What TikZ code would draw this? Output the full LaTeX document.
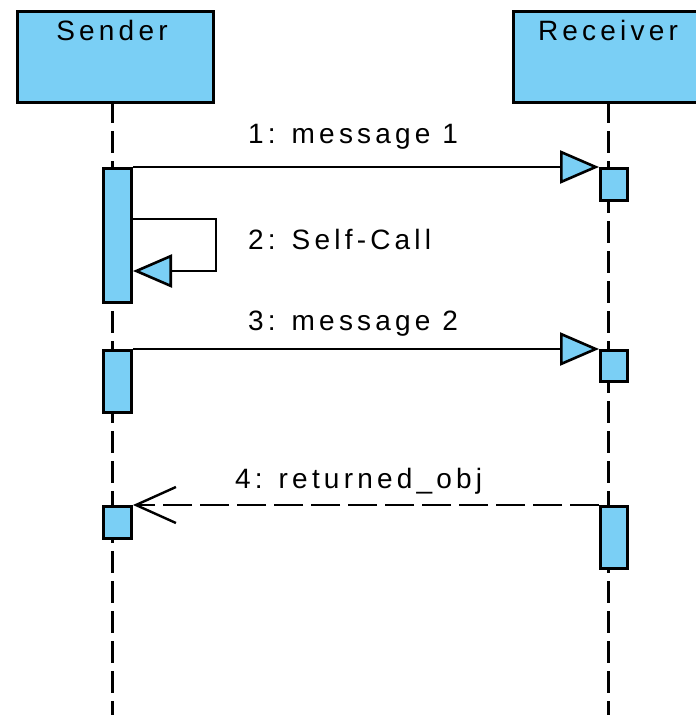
\documentclass[tikz,border=0pt]{standalone}
\usepackage{fontspec}
\setmainfont{Liberation Sans}
\newfontfamily\lblfont[LetterSpace=15]{Liberation Sans}
\usetikzlibrary{arrows.meta}
\definecolor{actblue}{RGB}{122,207,245}
\begin{document}
\begin{tikzpicture}[x=1pt,y=-1pt,
  lifebox/.style={draw,line width=3pt,fill=actblue,minimum width=196pt,minimum height=91pt,inner sep=0pt,anchor=north west},
  actbox/.style={draw,line width=3pt,fill=actblue,inner sep=0pt,anchor=north west,minimum width=27pt},
  lifeline/.style={line width=3pt,dash pattern=on 22pt off 8pt},
  msg/.style={line width=2.2pt,-{Triangle[length=39pt,width=33pt,fill=actblue,line width=2.6pt]}},
  ret/.style={line width=2.2pt,dash pattern=on 29pt off 8pt,-{Straight Barb[length=40pt,width=36pt,line width=2.4pt]}},
  txt/.style={font=\lblfont\fontsize{28}{31}\selectfont,inner sep=0pt}]
\useasboundingbox (0,0) rectangle (696,715);
\clip (0,0) rectangle (696,715);
% lifeline heads
\node[lifebox] (sender) at (16,10) {};
\node[lifebox] (receiver) at (512,10) {};
\node[txt,anchor=base] (sendertxt) at (112,40) {Sender};
\node[txt,anchor=base] (receivertxt) at (608,40) {Receiver};
% lifelines
\coordinate (sendend) at (112,720);
\coordinate (recvend) at (608,720);
\draw[lifeline] (112,101) -- (sendend);
\draw[lifeline] (608,101) -- (recvend);
% activations
\node[actbox,minimum width=28pt,minimum height=134pt] (s1) at (102,167) {};
\node[actbox,minimum height=32pt] (r1) at (599,167) {};
\node[actbox,minimum width=28pt,minimum height=62pt] (s2) at (102,349) {};
\node[actbox,minimum height=31pt] (r2) at (599,349) {};
\node[actbox,minimum width=28pt,minimum height=32pt] (s3) at (102,505) {};
\node[actbox,minimum height=62pt] (r3) at (599,505) {};
% messages
\draw[msg] (s1.north east) -- (r1.north west);
\coordinate (sc1) at (216,219);
\coordinate (sc2) at (216,271);
\draw[msg] (s1.east |- sc1) -- (sc1) -- (sc2) -- (s1.east |- sc2);
\draw[msg] (s2.north east) -- (r2.north west);
\draw[ret] (r3.north west) -- (s3.north east);
% labels
\node[txt,anchor=base west] (m1) at (248,143) {1: message 1};
\node[txt,anchor=base west] (m2) at (248,249) {2: Self-Call};
\node[txt,anchor=base west] (m3) at (248,330) {3: message 2};
\node[txt,anchor=base west] (m4) at (235,488) {4: returned\_obj};
\end{tikzpicture}
\end{document}
